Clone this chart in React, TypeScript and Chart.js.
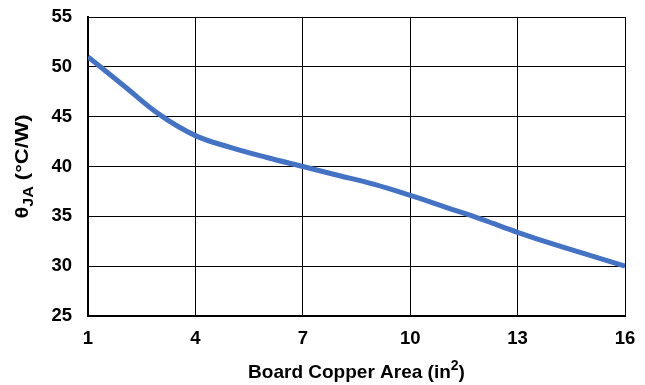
import React, { useEffect, useRef } from "react";
import { Chart, registerables } from "chart.js";

Chart.register(...registerables);

const copperArea = [1, 2, 3, 4, 5, 6, 7, 8, 9, 10, 11, 12, 13, 14, 15, 16];
const thetaJA = [51.0, 48.1, 45.2, 43.1, 41.9, 40.9, 40.0, 39.1, 38.2, 37.1, 35.9, 34.7, 33.4, 32.2, 31.1, 30.0];
const xTicks = [1, 4, 7, 10, 13, 16];
const yTicks = [25, 30, 35, 40, 45, 50, 55];

const FONT = '"Liberation Sans", Arial, sans-serif';
const TICK_SIZE = 18.5;

const titlePlugin = {
  id: "titles",
  afterDraw(chart: any) {
    const ctx = chart.ctx as CanvasRenderingContext2D;
    const area = chart.chartArea;
    ctx.save();
    ctx.fillStyle = "#000";
    ctx.textBaseline = "alphabetic";
    const big = `bold 19px ${FONT}`;
    const small = `bold 14px ${FONT}`;
    // X title
    const xParts: [string, string, number][] = [
      ["Board Copper Area (in", big, 0],
      ["2", small, -8],
      [")", big, 0],
    ];
    let total = 0;
    for (const [t, f] of xParts) { ctx.font = f; total += ctx.measureText(t).width; }
    let x = (area.left + area.right) / 2 - total / 2;
    const y = 378;
    for (const [t, f, dy] of xParts) {
      ctx.font = f; ctx.textAlign = "left";
      ctx.fillText(t, x, y + dy);
      x += ctx.measureText(t).width;
    }
    // Y title (rotated)
    const yParts: [string, string, number][] = [
      ["θ", big, 0],
      ["JA", small, 5],
      [" (°C/W)", big, 0],
    ];
    total = 0;
    for (const [t, f] of yParts) { ctx.font = f; total += ctx.measureText(t).width; }
    ctx.translate(28, (area.top + area.bottom) / 2);
    ctx.rotate(-Math.PI / 2);
    ctx.scale(1.15, 1);
    let px = -total / 2;
    for (const [t, f, dy] of yParts) {
      ctx.font = f; ctx.textAlign = "left";
      ctx.fillText(t, px, dy);
      px += ctx.measureText(t).width;
    }
    ctx.restore();
  },
};

export default function App() {
  const ref = useRef<HTMLCanvasElement | null>(null);
  useEffect(() => {
    document.body.style.margin = "0";
    const chart = new Chart(ref.current as HTMLCanvasElement, {
      type: "line",
      data: {
        datasets: [
          {
            data: copperArea.map((x, i) => ({ x, y: thetaJA[i] })),
            borderColor: "#4472C4",
            borderWidth: 5,
            pointRadius: 0,
            tension: 0.4,
            fill: false,
          },
        ],
      },
      options: {
        animation: false,
        responsive: false,
        devicePixelRatio: 1,
        layout: { padding: { left: 0, right: 20, top: 17, bottom: 0 } },
        plugins: { legend: { display: false }, tooltip: { enabled: false } },
        scales: {
          x: {
            type: "linear",
            min: 1,
            max: 16,
            afterBuildTicks: (s: any) => { s.ticks = xTicks.map((v) => ({ value: v })); },
            afterFit: (s: any) => { s.height = 69; s.paddingLeft = 0; s.paddingRight = 0; },
            ticks: {
              color: "#000",
              font: { family: FONT, size: TICK_SIZE, weight: "bold" },
              padding: 12,
              maxRotation: 0,
            },
            grid: { color: "#000", lineWidth: 1, drawTicks: false },
            border: { color: "#000", width: 2 },
          },
          y: {
            min: 25,
            max: 55,
            afterBuildTicks: (s: any) => { s.ticks = yTicks.map((v) => ({ value: v })); },
            afterFit: (s: any) => { s.width = 88; s.paddingTop = 0; s.paddingBottom = 0; },
            ticks: {
              color: "#000",
              font: { family: FONT, size: TICK_SIZE, weight: "bold" },
              padding: 16,
            },
            grid: { color: "#000", lineWidth: 1, drawTicks: false },
            border: { color: "#000", width: 2 },
          },
        },
      },
      plugins: [titlePlugin],
    });
    return () => chart.destroy();
  }, []);
  return (
    <div style={{ position: "fixed", left: 0, top: 0, width: 645, height: 385, background: "#fff" }}>
      <canvas ref={ref} width={645} height={385} style={{ width: 645, height: 385 }} />
    </div>
  );
}
